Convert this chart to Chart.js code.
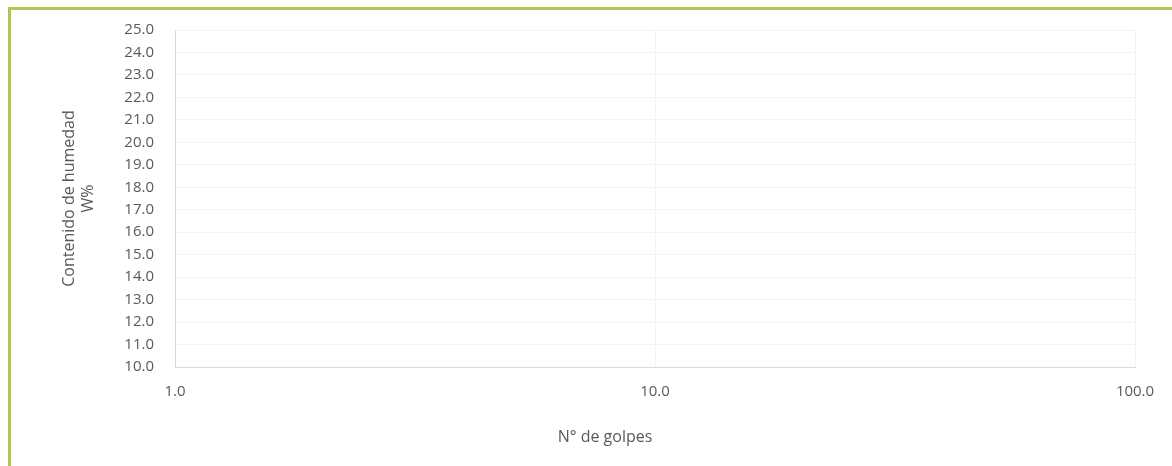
<!DOCTYPE html>
<html>
<head>
<meta charset="utf-8">
<script src="https://cdn.jsdelivr.net/npm/chart.js@4.4.1/dist/chart.umd.min.js"></script>
<style>
  html, body { margin: 0; padding: 0; background: #fff; }
  canvas { display: block; }
</style>
</head>
<body>
<canvas id="graphicW" width="1172" height="466"></canvas>
<script>
// values: the plot holds no marks, only the axes
const golpes = [];
const humedad = [];
const xTicks = [1, 10, 100];
const yMin = 10, yMax = 25, yStep = 1;
const xTitle = 'N° de golpes';
const yTitle = ['Contenido de humedad', 'W%'];

const canvasW = document.getElementById('graphicW');

const tickFont = { family: 'Open Sans', size: 15 };
const titleFont = { family: 'Open Sans', size: 16 };

// green frame round the picture, and the x title sitting a bit left of centre as in the original
const frameAndTitle = {
    id: 'frameAndTitle',
    afterDraw(chart){
        const ctx = chart.ctx;
        const area = chart.chartArea;
        ctx.save();
        ctx.strokeStyle = '#adc852';
        ctx.lineWidth = 3;
        ctx.strokeRect(9.5, 8.5, 1200, 520);
        ctx.fillStyle = '#595959';
        ctx.font = titleFont.size + 'px "' + titleFont.family + '"';
        ctx.textAlign = 'center';
        ctx.textBaseline = 'middle';
        ctx.fillText(xTitle, (area.left + area.right) / 2 - 50, area.bottom + 70);
        ctx.restore();
    }
};

const graphicHumedad = new Chart(canvasW, {
    type: 'scatter',
    data: {
        datasets: [{
            label: 'Contenido de humedad',
            data: golpes.map((g, i) => ({ x: g, y: humedad[i] })),
            borderColor: 'rgb(68, 114, 196)',
            backgroundColor: 'rgb(68, 114, 196)'
        }]
    },
    options: {
        responsive: false,
        animation: false,
        devicePixelRatio: 1,
        layout: { padding: { left: 60, right: 37, top: 22, bottom: 18 } },
        plugins: {
            legend: { display: false },
            tooltip: { enabled: false }
        },
        scales: {
            x: {
                type: 'logarithmic',
                min: 1,
                max: 100,
                afterBuildTicks: (scale) => { scale.ticks = xTicks.map(v => ({ value: v })); },
                afterFit: (scale) => { scale.height = 81; },
                border: { color: '#d9d9d9', width: 1 },
                grid: { color: '#f2f2f2', drawTicks: false },
                ticks: {
                    padding: 16,
                    color: '#595959',
                    font: tickFont,
                    maxRotation: 0,
                    callback: (v) => Number(v).toFixed(1)
                }
            },
            y: {
                min: yMin,
                max: yMax,
                afterFit: (scale) => { scale.width = 115; },
                border: { color: '#d9d9d9', width: 1 },
                grid: { color: '#f4f4f4', drawTicks: false },
                ticks: {
                    stepSize: yStep,
                    padding: 21,
                    color: '#595959',
                    font: tickFont,
                    callback: (v) => Number(v).toFixed(1)
                },
                title: {
                    display: true,
                    text: yTitle,
                    color: '#595959',
                    font: titleFont,
                    padding: 0
                }
            }
        }
    },
    plugins: [frameAndTitle]
});
</script>
</body>
</html>
